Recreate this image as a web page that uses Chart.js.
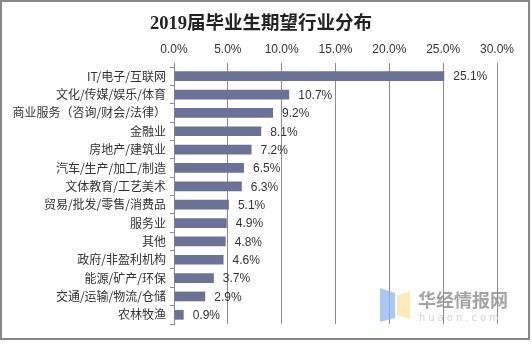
<!DOCTYPE html>
<html>
<head>
<meta charset="utf-8">
<script src="https://cdn.jsdelivr.net/npm/chart.js@4/dist/chart.umd.min.js"></script>
<style>
  html, body { margin: 0; padding: 0; background: #fff; }
  #wrap { width: 532px; height: 344px; position: relative; }
</style>
</head>
<body>
<div id="wrap"><canvas id="industryChart" width="532" height="344"></canvas></div>
<script>
// 2019届毕业生期望行业分布
const chartTitle = '2019届毕业生期望行业分布';
const industries = [
    'IT/电子/互联网', '文化/传媒/娱乐/体育', '商业服务（咨询/财会/法律）', '金融业',
    '房地产/建筑业', '汽车/生产/加工/制造', '文体教育/工艺美术', '贸易/批发/零售/消费品',
    '服务业', '其他', '政府/非盈利机构', '能源/矿产/环保', '交通/运输/物流/仓储', '农林牧渔'
];
const shares = [25.1, 10.7, 9.2, 8.1, 7.2, 6.5, 6.3, 5.1, 4.9, 4.8, 4.6, 3.7, 2.9, 0.9];
const axisTicks = [0, 5, 10, 15, 20, 25, 30];

const BAR_COLOR = '#6c7196';
const GRID_COLOR = '#8c8c8c';

// 标题、数值标签、外框、水印
const decorPlugin = {
    id: 'decor',
    afterDatasetsDraw(chart) {
        const ctx = chart.ctx;
        const meta = chart.getDatasetMeta(0);
        ctx.save();
        ctx.font = '12px "Liberation Sans", Arial, sans-serif';
        ctx.fillStyle = '#333';
        ctx.textAlign = 'left';
        ctx.textBaseline = 'middle';
        meta.data.forEach((bar, i) => {
            ctx.fillText(shares[i].toFixed(1) + '%', bar.x + 9, bar.y + 1);
        });
        ctx.restore();
    },
    afterDraw(chart) {
        const ctx = chart.ctx;
        ctx.save();
        // 标题
        ctx.fillStyle = '#222';
        ctx.font = 'bold 18.5px "Liberation Serif", "Noto Sans CJK SC", serif';
        ctx.textAlign = 'center';
        ctx.textBaseline = 'middle';
        ctx.fillText(chartTitle, 261, 24);
        ctx.textAlign = 'left';
        // 水印 logo
        ctx.globalAlpha = 0.75;
        ctx.fillStyle = '#8fb5ee';
        ctx.beginPath();
        ctx.moveTo(380, 288); ctx.lineTo(395, 293); ctx.lineTo(395, 318); ctx.lineTo(380, 322);
        ctx.closePath(); ctx.fill();
        ctx.fillStyle = '#fbe3a0';
        ctx.beginPath();
        ctx.moveTo(397, 296); ctx.lineTo(410, 291); ctx.lineTo(410, 319); ctx.lineTo(397, 315);
        ctx.closePath(); ctx.fill();
        ctx.globalAlpha = 1;
        ctx.fillStyle = 'rgba(140,140,140,0.8)';
        ctx.font = 'bold 18px "Noto Sans CJK SC", sans-serif';
        ctx.fillText('华经情报网', 418, 300);
        ctx.fillStyle = 'rgba(190,190,190,0.7)';
        ctx.font = '10px "DejaVu Sans", sans-serif';
        ctx.letterSpacing = '3px';
        ctx.fillText('huaon.com', 419, 318);
        ctx.letterSpacing = '0px';
        // 外框
        ctx.strokeStyle = '#888';
        ctx.lineWidth = 2;
        ctx.strokeRect(1, 1, 528, 338);
        ctx.restore();
    }
};

new Chart(document.getElementById('industryChart'), {
    type: 'bar',
    data: {
        labels: industries,
        datasets: [{
            data: shares,
            backgroundColor: BAR_COLOR,
            borderWidth: 0,
            categoryPercentage: 1,
            barPercentage: 0.53
        }]
    },
    options: {
        indexAxis: 'y',
        responsive: false,
        animation: false,
        layout: { padding: { top: 32.6, left: 0, right: 35, bottom: 20 } },
        plugins: {
            legend: { display: false },
            tooltip: { enabled: false },
            title: { display: false }
        },
        scales: {
            x: {
                position: 'top',
                min: axisTicks[0],
                max: axisTicks[axisTicks.length - 1],
                afterBuildTicks(scale) {
                    scale.ticks = axisTicks.map(v => ({ value: v }));
                },
                afterFit(scale) { scale.height = 34.4; },
                grid: { color: GRID_COLOR, tickLength: 4, drawTicks: true },
                border: { display: false },
                ticks: {
                    color: '#333',
                    padding: 6,
                    font: { family: '"Liberation Sans", Arial, sans-serif', size: 12 },
                    callback: v => v.toFixed(1) + '%'
                }
            },
            y: {
                afterFit(scale) { scale.width = 174; },
                grid: { drawOnChartArea: false, color: GRID_COLOR, tickLength: 4, offset: true },
                border: { display: true, color: GRID_COLOR },
                ticks: {
                    color: '#333',
                    padding: 4,
                    autoSkip: false,
                    font: { family: '"Noto Sans CJK SC", sans-serif', size: 12 }
                }
            }
        }
    },
    plugins: [decorPlugin]
});
</script>
</body>
</html>
